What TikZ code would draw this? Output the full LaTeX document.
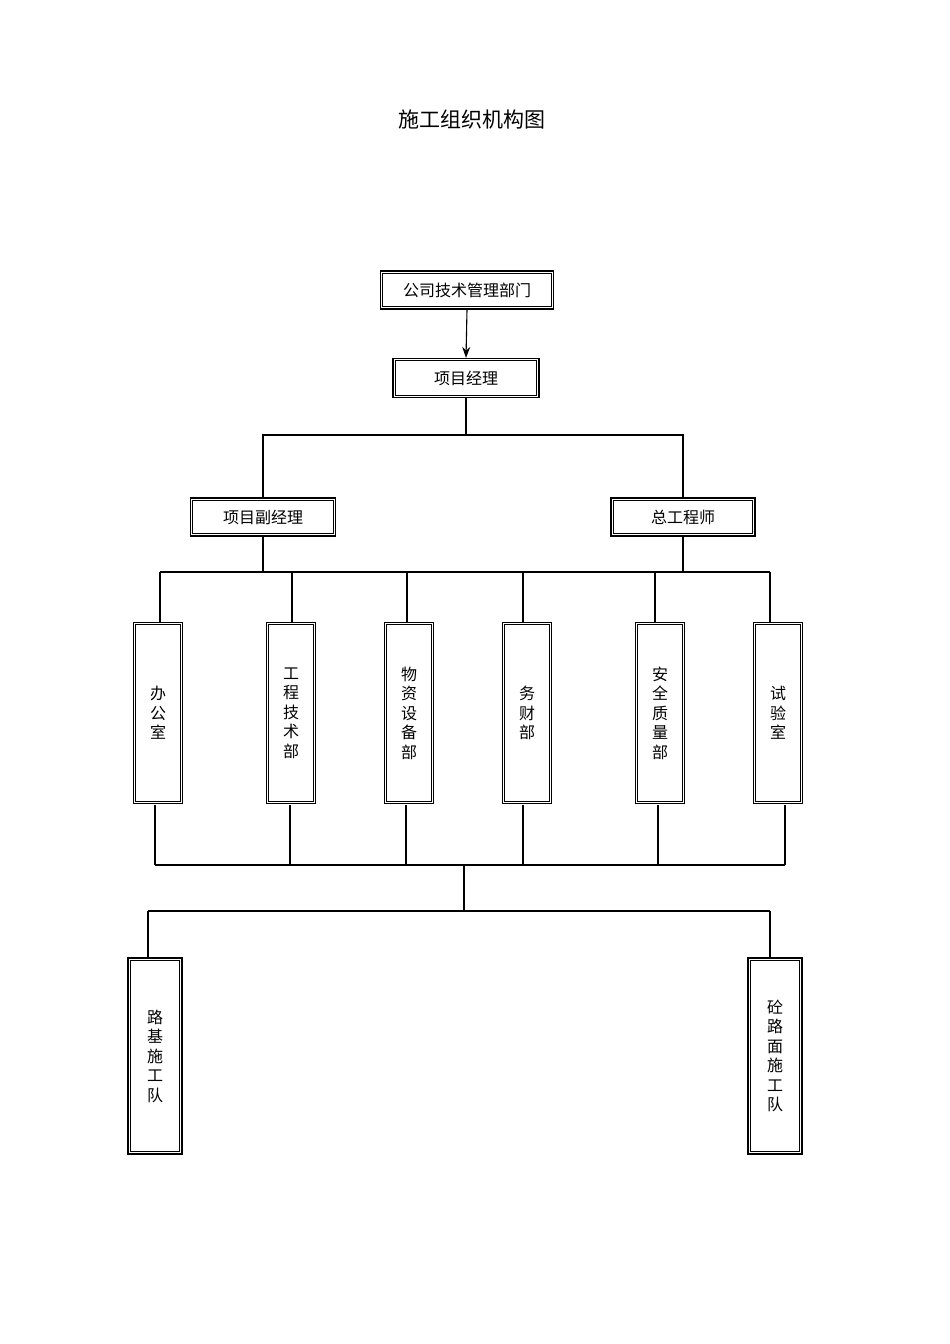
\documentclass[tikz,border=0pt]{standalone}
\usepackage{fontspec}
\setmainfont{Noto Sans CJK SC}
\usetikzlibrary{arrows.meta}
\begin{document}
\begin{tikzpicture}[x=1pt,y=-1pt,
  box/.style={draw,line width=1.2pt,inner sep=0,font=\fontsize{16}{19.5}\selectfont,align=center,
    append after command={\pgfextra{\draw[line width=1.2pt] ([shift={(2.8pt,2.8pt)}]\tikzlastnode.south west) rectangle ([shift={(-2.8pt,-2.8pt)}]\tikzlastnode.north east);}}},
  ln/.style={line width=1.1pt}]
\useasboundingbox (0,0) rectangle (950,1344);
\node[font=\fontsize{21}{24}\selectfont] (title) at (472,120) {施工组织机构图};
\node[box,minimum width=173,minimum height=38] (gs) at (467,290) {公司技术管理部门};
\node[box,minimum width=146,minimum height=39] (xm) at (466,378) {项目经理};
\node[box,minimum width=145,minimum height=38] (fj) at (263,517) {项目副经理};
\node[box,minimum width=144,minimum height=38] (zg) at (683,517) {总工程师};
\foreach \n/\x/\t in {a/158/办\\公\\室, b/291/工\\程\\技\\术\\部, c/409/物\\资\\设\\备\\部, d/527/务\\财\\部, e/660/安\\全\\质\\量\\部, f/778/试\\验\\室}{
  \node[box,minimum width=49,minimum height=181] (\n) at (\x,713) {\t};
}
\node[box,minimum width=54,minimum height=196] (lj) at (155,1056) {路\\基\\施\\工\\队};
\node[box,minimum width=54,minimum height=196] (lm) at (775,1056) {砼\\路\\面\\施\\工\\队};
\coordinate (h1l) at (263,435); \coordinate (h1r) at (683,435);
\draw[ln,-{Stealth[length=11pt,width=8pt]}] (gs.south) -- (xm.north);
\draw[ln] (xm.south) -- (466,435);
\draw[ln] (fj.north) -- (h1l) -- (h1r) -- (zg.north);
\draw[ln] (fj.south) -- (263,572);
\draw[ln] (zg.south) -- (683,572);
\draw[ln] (160,572) -- (770,572);
\foreach \n/\x in {a/160,b/292,c/407,d/523,e/655,f/770}{\draw[ln] (\x,572) -- (\x,622);}
\foreach \n/\x in {a/155,b/290,c/406,d/523,e/658,f/785}{\draw[ln] (\x,805) -- (\x,865);}
\draw[ln] (155,865) -- (785,865);
\draw[ln] (464,865) -- (464,911);
\draw[ln] (148,911) -- (770,911);
\draw[ln] (148,911) -- (lj.north -| 148,0);
\draw[ln] (770,911) -- (lm.north -| 770,0);
\end{tikzpicture}
\end{document}
